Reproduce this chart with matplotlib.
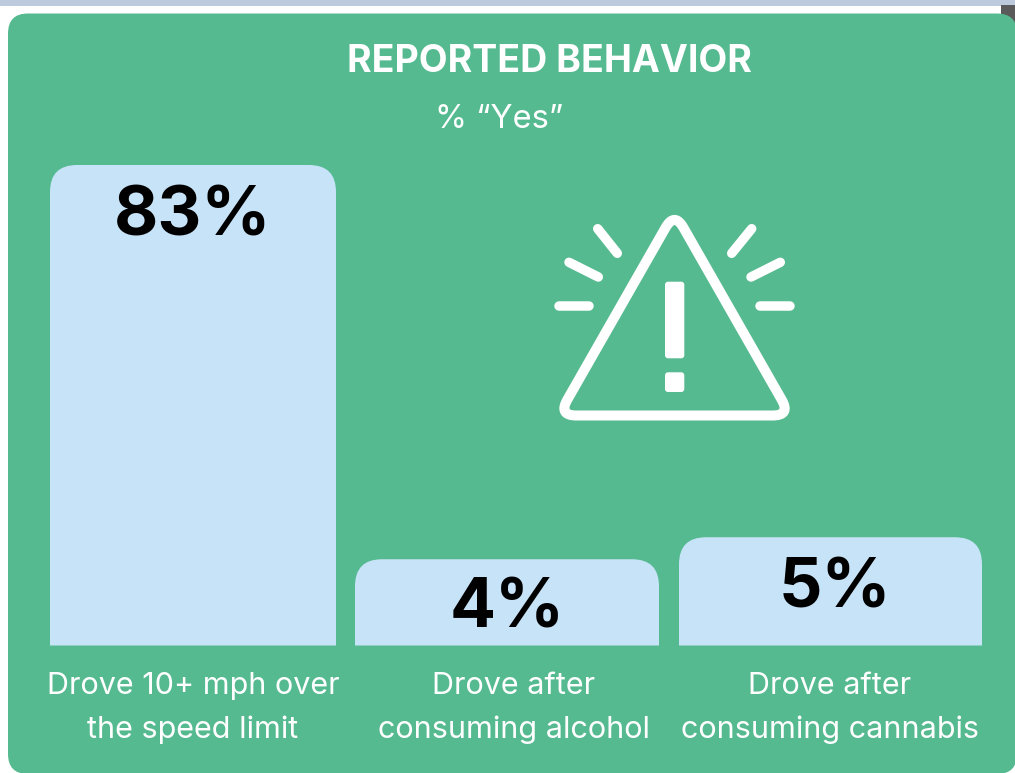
import matplotlib
matplotlib.use('Agg')
import matplotlib.pyplot as plt
from matplotlib.patches import PathPatch, Rectangle, FancyBboxPatch
from matplotlib.path import Path

plt.rcParams['font.family'] = ['Inter', 'DejaVu Sans']

# heights are read off the picture, the bars are not drawn to scale with the labels
categories = ['Drove 10+ mph over\nthe speed limit',
              'Drove after\nconsuming alcohol',
              'Drove after\nconsuming cannabis']
bar_heights = [83, 14.9, 18.7]
value_labels = ['83%', '4%', '5%']

W = 1015
H = 773
GREEN = '#56BA90'
BLUE = '#C7E3F8'
PT = 0.72  # px to points at dpi 100

fig = plt.figure(figsize=(W / 100, H / 100), dpi=100, facecolor='white')

# whole figure axes in pixels, for the card and icon
bg = fig.add_axes([0, 0, 1, 1], zorder=0)
bg.set_xlim(0, W)
bg.set_ylim(H, 0)
bg.axis('off')

bg.add_patch(Rectangle((0, 0), W, 5.5, fc='#BDCADD', ec='none'))
bg.add_patch(Rectangle((1001, 5), 14, 25, fc='#5A5A5A', ec='none'))
bg.add_patch(FancyBboxPatch((8 + 20, 13.5 + 20), 1017 - 8 - 40, 774 - 13.5 - 40,
                            boxstyle='round,pad=20,rounding_size=20',
                            fc=GREEN, ec='none'))


def rounded_triangle(apex, left, right, cut):
    pts = [apex, right, left]
    verts = []
    codes = []
    for i in range(3):
        p = pts[i]
        a = pts[i - 1]
        b = pts[(i + 1) % 3]
        la = ((a[0] - p[0]) ** 2 + (a[1] - p[1]) ** 2) ** 0.5
        lb = ((b[0] - p[0]) ** 2 + (b[1] - p[1]) ** 2) ** 0.5
        s = (p[0] + (a[0] - p[0]) * cut / la, p[1] + (a[1] - p[1]) * cut / la)
        e = (p[0] + (b[0] - p[0]) * cut / lb, p[1] + (b[1] - p[1]) * cut / lb)
        verts += [s, p, e]
        codes += [Path.MOVETO if i == 0 else Path.LINETO, Path.CURVE3, Path.CURVE3]
    verts.append(verts[0])
    codes.append(Path.CLOSEPOLY)
    return Path(verts, codes)


# warning icon
tri = rounded_triangle((674.5, 212), (558.3, 415.5), (790.7, 415.5), 18)
bg.add_patch(PathPatch(tri, fc='none', ec='white', lw=10 * PT, joinstyle='round'))

rays = [((559.5, 305.7), (589, 305.7)),
        ((569, 262.3), (598.3, 277)),
        ((597.7, 228.7), (617.3, 253.3)),
        ((760.3, 305.7), (790, 305.7)),
        ((751, 277), (780.3, 262.3)),
        ((731.7, 253.3), (751.7, 228.7))]
for a, b in rays:
    bg.plot([a[0], b[0]], [a[1], b[1]], color='white', lw=9.5 * PT,
            solid_capstyle='round')

bg.add_patch(FancyBboxPatch((668, 284.7), 13.3, 70.6,
                            boxstyle='round,pad=3,rounding_size=3',
                            fc='white', ec='none'))
bg.add_patch(FancyBboxPatch((668, 375.3), 13.3, 13.7,
                            boxstyle='round,pad=3,rounding_size=3',
                            fc='white', ec='none'))

# bars
BAR_TOP = 165
BAR_BASE = 645.5
X0 = 50
X1 = 982
ax = fig.add_axes([X0 / W, 1 - BAR_BASE / H, (X1 - X0) / W, (BAR_BASE - BAR_TOP) / H], zorder=1)
ax.set_xlim(X0, X1)
ax.set_ylim(0, max(bar_heights))
ax.axis('off')

lefts = [50, 355, 679]
widths = [286, 304, 303]
bars = ax.bar(lefts, bar_heights, width=widths, align='edge', color=BLUE)

rad = 27
ry = rad * max(bar_heights) / (BAR_BASE - BAR_TOP)
for b in bars:
    b.set_visible(False)
    x, w, h = b.get_x(), b.get_width(), b.get_height()
    p = Path([(x, 0), (x, h - ry), (x, h), (x + rad, h), (x + w - rad, h),
              (x + w, h), (x + w, h - ry), (x + w, 0), (x, 0)],
             [Path.MOVETO, Path.LINETO, Path.CURVE3, Path.CURVE3, Path.LINETO,
              Path.CURVE3, Path.CURVE3, Path.LINETO, Path.CLOSEPOLY])
    ax.add_patch(PathPatch(p, fc=BLUE, ec='none'))

# text goes on top, spots in pixels from the picture
top = fig.add_axes([0, 0, 1, 1], zorder=2)
top.set_xlim(0, W)
top.set_ylim(H, 0)
top.axis('off')

top.text(549, 62, 'REPORTED BEHAVIOR', color='white', fontsize=27, fontweight='bold',
         ha='center', va='center')
top.text(499, 119, '% \u201cYes\u201d', color='white', fontsize=23.5,
         ha='center', va='center')

val_x = [193, 507, 835]
val_y = [217, 610, 589]
for i in range(3):
    top.text(val_x[i], val_y[i], value_labels[i], color='black', fontsize=49,
             fontweight='bold', ha='center', va='center')

cat_x = [193, 514, 830]
for i in range(3):
    line1, line2 = categories[i].split('\n')
    top.text(cat_x[i], 686, line1, color='white', fontsize=22, ha='center', va='center')
    top.text(cat_x[i], 730, line2, color='white', fontsize=22, ha='center', va='center')

fig.savefig('out.png', dpi=100)
